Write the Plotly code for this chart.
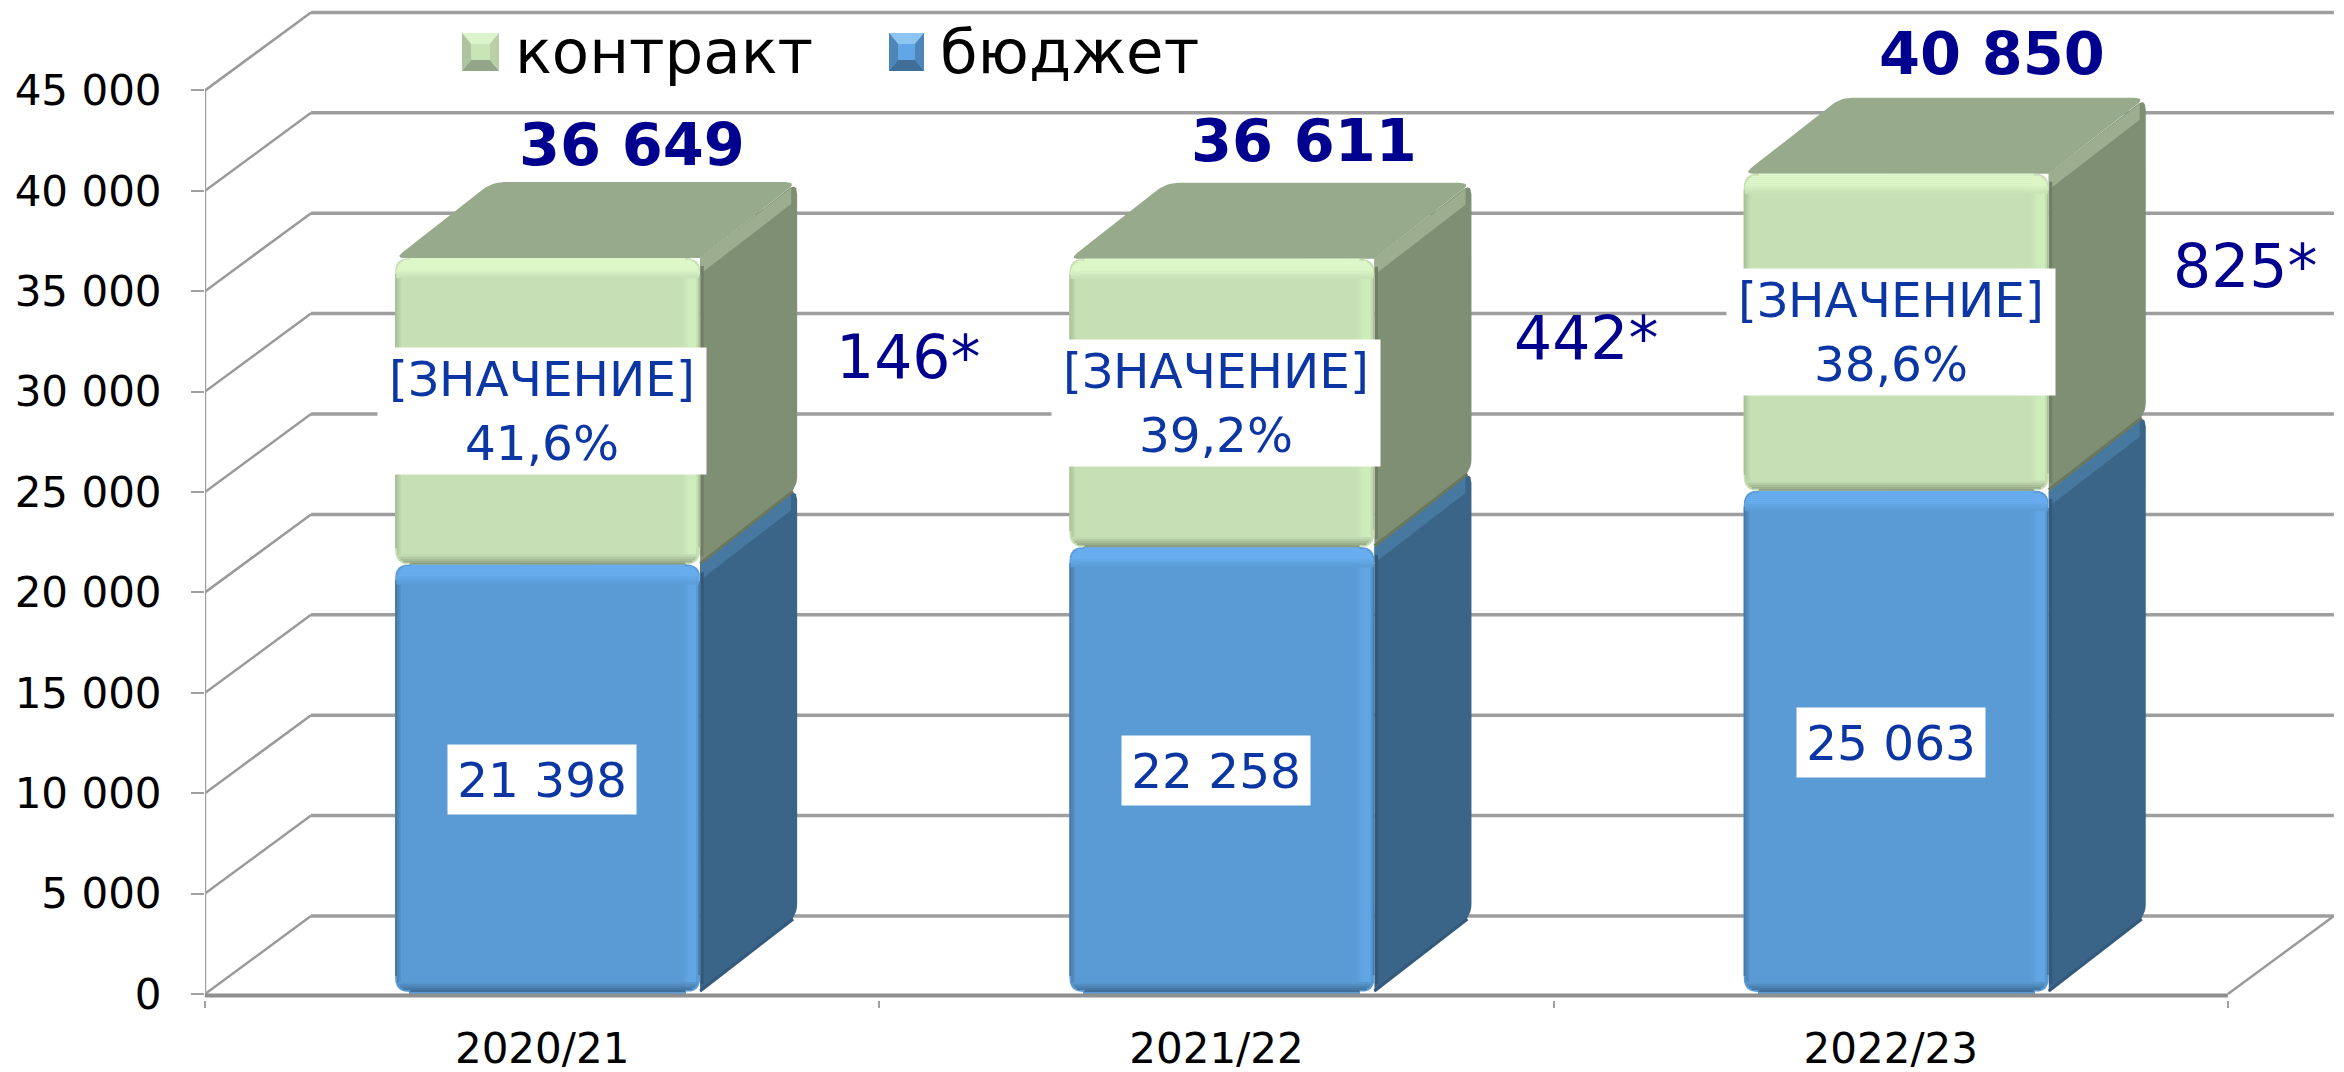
import plotly.graph_objects as go
import math

# ---- data ----
years = ["2020/21", "2021/22", "2022/23"]
budget = [21398, 22258, 25063]
contract = [15251, 14353, 15787]
totals = ["36 649", "36 611", "40 850"]
shares = ["41,6%", "39,2%", "38,6%"]
budget_labels = ["21 398", "22 258", "25 063"]
notes = ["146*", "442*", "825*"]
note_x = [1.044, 2.0495, 3.026]
note_y = [31723, 32669, 36255]
total_x = [0.6336, 1.6302, 2.650]
total_y = [42300, 42530, 46820]
y_ticks = [0, 5000, 10000, 15000, 20000, 25000, 30000, 35000, 40000, 45000]
y_ticklabels = ["0", "5 000", "10 000", "15 000", "20 000", "25 000", "30 000", "35 000", "40 000", "45 000"]
legend_names = ["контракт", "бюджет"]

# ---- canvas / scale ----
PAGE = 8              # the browser's page margin
BELOW = 6             # px of plot area kept below the zero line
W, H = 2344 - PAGE, 1072 - PAGE
ML, MR, MT, MB = 205 - PAGE, 10, 0, 78 - BELOW
SX = 674.3            # px per category
SY = 0.02008          # px per value unit
PW, PH = W - ML - MR, H - MT - MB
XMAX, YMIN, YMAX = PW / SX, -BELOW / SY, (PH - BELOW) / SY
WALL_DX, WALL_DY = 106 / SX, 78 / SY
BAR_W, BAR_OFF = 305 / SX, 5.5 / SX
BAR_DX, BAR_DY = 97 / SX, 76 / SY
R = 14

GRID = "#9E9E9E"
PAL = {
    "b": dict(main="#5B9BD5", light="#68ADEF", right="#62A6E6", dark="#3F6E99", left="#467AA8",
              side="#3A6488", strip="#47789F", top="#47789F", seam="#335A7B"),
    "c": dict(main="#C6E0B4", light="#DDF7C9", right="#CFEDBC", dark="#8C9D7F", left="#ABC19C",
              side="#7F8F73", strip="#9CAE8F", top="#97AA8B", seam="#6A7860"),
}


def mix(a, b, t):
    a = [int(a[i:i + 2], 16) for i in (1, 3, 5)]
    b = [int(b[i:i + 2], 16) for i in (1, 3, 5)]
    return "#%02X%02X%02X" % tuple(round(p + (q - p) * t) for p, q in zip(a, b))


def rounded(points, radii):
    """points in data units; radius in px, applied at each corner."""
    out = []
    n = len(points)
    pts = [(p[0] * SX, p[1] * SY) for p in points]
    for i, p in enumerate(pts):
        r = radii[i]
        if r == 0:
            out.append(p)
            continue
        a, b = pts[i - 1], pts[(i + 1) % n]
        la, lb = math.dist(p, a), math.dist(p, b)
        s = (p[0] + (a[0] - p[0]) * r / la, p[1] + (a[1] - p[1]) * r / la)
        e = (p[0] + (b[0] - p[0]) * r / lb, p[1] + (b[1] - p[1]) * r / lb)
        for k in range(7):
            t = k / 6
            out.append(((1 - t) ** 2 * s[0] + 2 * t * (1 - t) * p[0] + t * t * e[0],
                        (1 - t) ** 2 * s[1] + 2 * t * (1 - t) * p[1] + t * t * e[1]))
    return [q[0] / SX for q in out], [q[1] / SY for q in out]


fig = go.Figure()

# ---- native bars (core of every front face) ----
centers = [i + 0.5 + BAR_OFF for i in range(3)]
inner = BAR_W - 2 * R / SX
fig.add_trace(go.Bar(x=centers, y=budget, width=inner, marker=dict(color=PAL["b"]["main"], line_width=0),
                     name=legend_names[1], showlegend=False))
fig.add_trace(go.Bar(x=centers, y=contract, width=inner, marker=dict(color=PAL["c"]["main"], line_width=0),
                     name=legend_names[0], showlegend=False))


def line(xs, ys, color, width):
    fig.add_trace(go.Scatter(x=xs, y=ys, mode="lines", line=dict(color=color, width=width),
                             hoverinfo="skip", showlegend=False, cliponaxis=False))


def poly(xs, ys, color):
    fig.add_trace(go.Scatter(x=xs, y=ys, mode="lines", fill="toself", fillcolor=color,
                             line=dict(width=0, color=color), hoverinfo="skip",
                             showlegend=False, cliponaxis=False))


# ---- walls: gridlines and floor ----
bx, by, dx, dy = [], [], [], []
for v in y_ticks:
    bx += [WALL_DX, 3 + WALL_DX, None]
    by += [v + WALL_DY, v + WALL_DY, None]
    dx += [0, WALL_DX, None]
    dy += [v, v + WALL_DY, None]
line(bx, by, GRID, 3.5)
line(dx, dy, "#9A9A9A", 2.5)
line([3, 3 + WALL_DX], [0, WALL_DY], "#9A9A9A", 2.5)
line([0, 0], [0, 45000], "#A0A0A0", 2.5)
line([0, 3], [-70, -70], "#8F8F8F", 4)


# ---- 3D bar faces ----
def face(x0, x1, v0, v1, pal, top_visible):
    # side
    xs, ys = rounded([(x1, v0), (x1 + BAR_DX, v0 + BAR_DY), (x1 + BAR_DX, v1 + BAR_DY), (x1, v1)],
                     [0, 12, 12, 0])
    poly(xs, ys, pal["side"])
    # lighter bevel along the side's upper diagonal
    band = 16 / SY
    poly([x1, x1 + BAR_DX - 6 / SX, x1 + BAR_DX - 6 / SX, x1],
         [v1, v1 + BAR_DY - 6 / SY, v1 + BAR_DY - 6 / SY - band, v1 - band], pal["strip"])
    # darker seam on lower diagonal
    line([x1, x1 + BAR_DX - 4 / SX], [v0 + 1 / SY, v0 + BAR_DY - 3 / SY], pal["seam"], 3)
    line([x1 + 2 / SX, x1 + 2 / SX], [v0 + 8 / SY, v1 - 8 / SY], mix(pal["side"], "#000000", 0.12), 3)
    if top_visible:
        xs, ys = rounded([(x0, v1), (x1, v1), (x1 + BAR_DX, v1 + BAR_DY), (x0 + BAR_DX, v1 + BAR_DY)],
                         [10, 0, 12, 12])
        poly(xs, ys, pal["top"])
    # front rounded
    xs, ys = rounded([(x0, v0), (x1, v0), (x1, v1), (x0, v1)], [R, R, R, R])
    poly(xs, ys, pal["main"])

    def inset(d):
        return R - math.sqrt(max(R * R - (R - d) ** 2, 0)) if d < R else 0

    # left edge
    for d in range(0, 7, 2):
        c = mix(pal["left"], pal["main"], d / 6)
        px = x0 + (d + 1) / SX
        line([px, px], [v0 + (inset(d) + 2) / SY, v1 - (inset(d) + 2) / SY], c, 2.2)
    # right highlight
    for d in range(0, 18, 2):
        if d < 3:
            c = mix(pal["left"], pal["right"], d / 3)
        elif d < 11:
            c = pal["right"]
        else:
            c = mix(pal["right"], pal["main"], (d - 10) / 7)
        px = x1 - (d + 1) / SX
        line([px, px], [v0 + (inset(d) + 3) / SY, v1 - (inset(d) + 3) / SY], c, 2.2)
    # top highlight
    for d in range(0, 20, 2):
        c = pal["light"] if d < 11 else mix(pal["light"], pal["main"], (d - 10) / 9)
        py = v1 - (d + 1) / SY
        line([x0 + (inset(d) + 1) / SX, x1 - (inset(d) + 1) / SX], [py, py], c, 2.2)
    # bottom shade
    for d in range(0, 10, 2):
        c = mix(pal["dark"], pal["main"], d / 9)
        py = v0 + (d + 1) / SY
        line([x0 + (inset(d) + 1) / SX, x1 - (inset(d) + 1) / SX], [py, py], c, 2.2)


for i in range(3):
    x0 = i + 0.5 + BAR_OFF - BAR_W / 2
    x1 = x0 + BAR_W
    face(x0, x1, 100, budget[i], PAL["b"], False)
    face(x0, x1, budget[i], budget[i] + contract[i], PAL["c"], True)

# ---- annotations ----
BLUE = "#0B36A4"
NAVY = "#00008F"
FONT = "DejaVu Sans"
ann = []
for i in range(3):
    ann.append(dict(x=i + 0.5, y=budget[i] / 2, text=budget_labels[i], showarrow=False, bgcolor="white",
                    width=186, height=67, font=dict(family=FONT, size=48.5, color=BLUE)))
    ann.append(dict(x=i + 0.5, y=budget[i] + contract[i] / 2, text="[ЗНАЧЕНИЕ]<br>" + shares[i], showarrow=False,
                    bgcolor="white", width=326, height=124, font=dict(family=FONT, size=48.5, color=BLUE)))
    ann.append(dict(x=total_x[i], y=total_y[i], text="<b>" + totals[i] + "</b>", showarrow=False,
                    font=dict(family=FONT, size=59, color=NAVY)))
    ann.append(dict(x=note_x[i], y=note_y[i], text=notes[i], showarrow=False,
                    font=dict(family=FONT, size=60, color=NAVY)))


def fx(px):
    return (px - PAGE - ML) / PW


def fy(py):
    return (MT + PH - (py - PAGE)) / PH


# ---- legend (bevelled swatches + real text) ----
shapes = []


def swatch(x0, x1, y0, y1, main, top, bottom, left, right):
    b = 9
    bh = 11
    X0, X1, Xa, Xb = fx(x0), fx(x1), fx(x0 + b), fx(x1 - b)
    Y0, Y1, Ya, Yb = fy(y0), fy(y1), fy(y0 + bh), fy(y1 - bh)

    def P(pts, col):
        d = "M" + "L".join(f"{a:.5f},{c:.5f}" for a, c in pts) + "Z"
        shapes.append(dict(type="path", path=d, xref="paper", yref="paper", fillcolor=col,
                           line=dict(width=0), layer="above"))
    P([(X0, Y0), (X1, Y0), (X1, Y1), (X0, Y1)], main)
    P([(X0, Y0), (X1, Y0), (Xb, Ya), (Xa, Ya)], top)
    P([(X0, Y1), (X1, Y1), (Xb, Yb), (Xa, Yb)], bottom)
    P([(X0, Y0), (Xa, Ya), (Xa, Yb), (X0, Y1)], left)
    P([(X1, Y0), (Xb, Ya), (Xb, Yb), (X1, Y1)], right)


swatch(462, 499, 33, 71, "#C9E4B7", "#DCF4CB", "#94A68A", "#AEC4A0", "#B9D0A9")
swatch(889, 924, 33, 71, "#62A6E6", "#8CC4F2", "#3F6E99", "#4E86BA", "#4E86BA")
ann.append(dict(x=fx(513), y=fy(52), xref="paper", yref="paper", xanchor="left", yanchor="middle",
                text=legend_names[0], showarrow=False, font=dict(family=FONT, size=61, color="black")))
ann.append(dict(x=fx(938), y=fy(52), xref="paper", yref="paper", xanchor="left", yanchor="middle",
                text=legend_names[1], showarrow=False, font=dict(family=FONT, size=61, color="black")))

fig.update_layout(
    width=W, height=H, autosize=False,
    margin=dict(l=ML, r=MR, t=MT, b=MB, pad=0),
    paper_bgcolor="white", plot_bgcolor="white",
    barmode="stack", showlegend=False,
    annotations=ann, shapes=shapes,
    xaxis=dict(range=[0, XMAX], showgrid=False, zeroline=False, showline=False, automargin=False,
               tickmode="array", tickvals=[0.5, 1.5, 2.5], ticktext=years, ticks="", ticklabelstandoff=20,
               tickfont=dict(family=FONT, size=42, color="#000000"),
               minor=dict(tickmode="array", tickvals=[0, 1, 2, 3], ticks="outside", ticklen=7, tickcolor="#A0A0A0",
                          tickwidth=2, showgrid=False)),
    yaxis=dict(range=[YMIN, YMAX], showgrid=False, zeroline=False, showline=False, automargin=False,
               tickmode="array", tickvals=y_ticks, ticktext=y_ticklabels, ticks="outside", ticklen=13,
               tickcolor="#A0A0A0", tickwidth=2, ticklabelstandoff=21,
               tickfont=dict(family=FONT, size=42, color="#000000")),
)
fig.write_html("out.html")
